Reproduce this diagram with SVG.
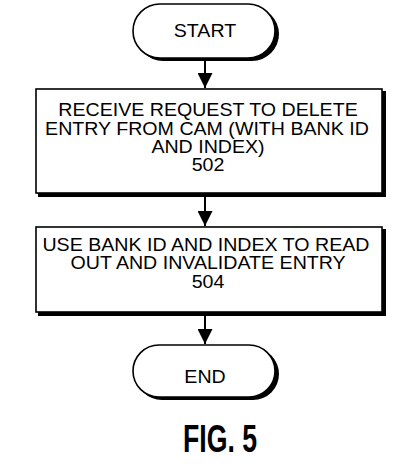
<svg xmlns="http://www.w3.org/2000/svg" width="401" height="466" viewBox="0 0 401 466">
<style>
.sh{fill:#000}
.bx{fill:#fff;stroke:#000;stroke-width:1.6}
.t{font-family:"Liberation Sans",Arial,sans-serif;font-size:18.5px;fill:#000;text-anchor:middle}
.ln{stroke:#000;stroke-width:2;fill:none}
</style>
<defs>
<marker id="ah" viewBox="0 0 10 10" refX="10" refY="5" markerWidth="15" markerHeight="15" markerUnits="userSpaceOnUse" orient="auto">
<path d="M0,0 L10,5 L0,10 Z" fill="#000"/>
</marker>
</defs>
<rect width="401" height="466" fill="#fff"/>
<g id="connectors">
<line class="ln" x1="205" y1="60" x2="205" y2="88" marker-end="url(#ah)"/>
<line class="ln" x1="205" y1="196" x2="205" y2="226" marker-end="url(#ah)"/>
<line class="ln" x1="205" y1="315" x2="205" y2="344" marker-end="url(#ah)"/>
</g>
<g id="start">
<rect class="sh" x="136" y="7" width="143" height="54" rx="27"/>
<rect class="bx" x="133" y="4" width="142" height="54" rx="27"/>
<g transform="translate(205 0) scale(1.06 1)"><text class="t" x="0" y="37">START</text></g>
</g>
<g id="n502">
<rect class="sh" x="38" y="91" width="348" height="106"/>
<rect class="bx" x="36" y="89" width="346" height="104"/>
<g transform="translate(208 0) scale(1.06 1)">
<text class="t" x="0" y="116">RECEIVE REQUEST TO DELETE</text>
<text class="t" x="-1" y="134.5">ENTRY FROM CAM (WITH BANK ID</text>
<text class="t" x="0" y="153">AND INDEX)</text>
<text class="t" x="0" y="171.5">502</text>
</g>
</g>
<g id="n504">
<rect class="sh" x="38" y="229" width="348" height="87"/>
<rect class="bx" x="36" y="227" width="346" height="85"/>
<g transform="translate(207 0) scale(1.06 1)">
<text class="t" x="-1" y="251">USE BANK ID AND INDEX TO READ</text>
<text class="t" x="1" y="269.5">OUT AND INVALIDATE ENTRY</text>
<text class="t" x="1" y="288">504</text>
</g>
</g>
<g id="end">
<rect class="sh" x="136" y="348" width="143" height="52" rx="26"/>
<rect class="bx" x="133" y="345" width="142" height="52" rx="26"/>
<g transform="translate(205 0) scale(1.06 1)"><text class="t" x="0" y="383">END</text></g>
</g>
<g id="caption">
<text x="220" y="452" textLength="74" lengthAdjust="spacingAndGlyphs" style="font-family:'Liberation Sans',Arial,sans-serif;font-size:38px;font-weight:bold;text-anchor:middle">FIG. 5</text>
</g>
</svg>
